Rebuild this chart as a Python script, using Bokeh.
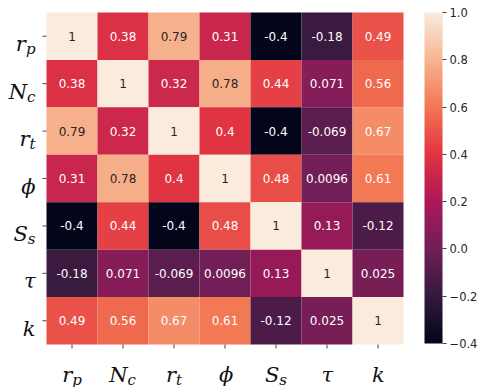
from bokeh.plotting import figure
from bokeh.models import (Range1d, FixedTicker, LinearColorMapper, ColorBar,
                          ColumnDataSource)
from bokeh.core.properties import value
from bokeh.embed import file_html
from bokeh.resources import INLINE

# ---------------- data ----------------
label_main = ["r", "N", "r", "\u03d5", "S", "\u03c4", "k"]
label_sub = ["p", "c", "t", "", "s", "", ""]

corr = [
    [1, 0.38, 0.79, 0.31, -0.4, -0.18, 0.49],
    [0.38, 1, 0.32, 0.78, 0.44, 0.071, 0.56],
    [0.79, 0.32, 1, 0.4, -0.4, -0.069, 0.67],
    [0.31, 0.78, 0.4, 1, 0.48, 0.0096, 0.61],
    [-0.4, 0.44, -0.4, 0.48, 1, 0.13, -0.12],
    [-0.18, 0.071, -0.069, 0.0096, 0.13, 1, 0.025],
    [0.49, 0.56, 0.67, 0.61, -0.12, 0.025, 1],
]
cbar_ticks = [-0.4, -0.2, 0.0, 0.2, 0.4, 0.6, 0.8, 1.0]
vmin, vmax = -0.4, 1.0

# ---------------- rocket colormap (approx) ----------------
anchors = [
    (0.0, "#03051a"), (1 / 7, "#35193e"), (2 / 7, "#701f57"), (3 / 7, "#ad1759"),
    (4 / 7, "#e13342"), (5 / 7, "#f37651"), (6 / 7, "#f6b48f"), (1.0, "#faebdd"),
]


def hex2rgb(h):
    h = h.lstrip("#")
    return tuple(int(h[i:i + 2], 16) for i in (0, 2, 4))


def interp(t):
    for (t0, c0), (t1, c1) in zip(anchors[:-1], anchors[1:]):
        if t <= t1:
            f = (t - t0) / (t1 - t0) if t1 > t0 else 0
            a, b = hex2rgb(c0), hex2rgb(c1)
            return tuple(round(a[k] + (b[k] - a[k]) * f) for k in range(3))
    return hex2rgb(anchors[-1][1])


N = 256
palette = ["#%02x%02x%02x" % interp(i / (N - 1)) for i in range(N)]


def color_of(v):
    idx = int((v - vmin) / (vmax - vmin) * N)
    idx = min(max(idx, 0), N - 1)
    return palette[idx]


def rel_lum(hexc):
    r, g, b = [c / 255 for c in hex2rgb(hexc)]
    def f(c):
        return c / 12.92 if c <= 0.03928 else ((c + 0.055) / 1.055) ** 2.4
    return 0.2126 * f(r) + 0.7152 * f(g) + 0.0722 * f(b)


n = len(label_main)
xs, ys, vs, txt, tcol = [], [], [], [], []
for i, row in enumerate(corr):
    for j, v in enumerate(row):
        xs.append(j + 0.5)
        ys.append(i + 0.5)
        vs.append(v)
        txt.append("{:.2g}".format(v))
        tcol.append("#262626" if rel_lum(color_of(v)) > 0.408 else "#ffffff")

src = ColumnDataSource(dict(x=xs, y=ys, v=vs, t=txt, tc=tcol))

# ---------------- layout (pixels) ----------------
W, H = 478, 387
HM_L, HM_R, HM_T, HM_B = 46, 403, 12, 344       # heatmap box on the page
cw = (HM_R - HM_L) / n
ch = (HM_B - HM_T) / n

p = figure(width=W, height=H, output_backend="svg", toolbar_location=None,
           x_range=Range1d(-HM_L / cw, (W - HM_L) / cw),
           y_range=Range1d(n + (H - HM_B) / ch, -HM_T / ch),
           min_border=0)
p.axis.visible = False
p.outline_line_color = None
p.grid.visible = False
p.background_fill_color = "white"
p.border_fill_color = "white"

mapper = LinearColorMapper(palette=palette, low=vmin, high=vmax)
p.rect(x="x", y="y", width=1, height=1, source=src,
       fill_color={"field": "v", "transform": mapper}, line_color=None)
p.text(x="x", y="y", text="t", source=src, text_color="tc",
       text_align="center", text_baseline="middle",
       text_font=value("DejaVu Sans"), text_font_size="12px")

# tick marks
pos = [k + 0.5 for k in range(n)]
tick = 4
p.segment(x0=pos, x1=pos, y0=[n] * n, y1=[n + tick / ch] * n,
          line_color="#444444", line_width=1)
p.segment(x0=[0] * n, x1=[-tick / cw] * n, y0=pos, y1=pos,
          line_color="#444444", line_width=1)

# math-style tick labels
main_fs, sub_fs = 21, 15
wmain = {"r": 0.478, "N": 0.837, "S": 0.685, "k": 0.64, "\u03d5": 0.8, "\u03c4": 0.58}
wsub = {"p": 0.64, "c": 0.56, "t": 0.4, "s": 0.51, "": 0.0}
font = value("DejaVu Serif")
tcolor = "#111111"

ym_x, ym_y, ym_t, ym_xo = [], [], [], []
ys_x, ys_y, ys_t = [], [], []
xm_x, xm_t, xm_xo = [], [], []
xs_x, xs_t, xs_xo = [], [], []
for k in range(n):
    m, s = label_main[k], label_sub[k]
    W1 = wmain[m] * main_fs
    W2 = wsub[s] * sub_fs
    ym_x.append(0); ym_y.append(k + 0.5); ym_t.append(m); ym_xo.append(-11 - W2)
    jo = (W1 - W2) / 2
    xm_x.append(k + 0.5); xm_t.append(m); xm_xo.append(jo)
    if s:
        ys_x.append(0); ys_y.append(k + 0.5); ys_t.append(s)
        xs_x.append(k + 0.5); xs_t.append(s); xs_xo.append(jo)

common = dict(text_font=font, text_font_style="italic", text_color=tcolor,
              text_baseline="alphabetic")
p.text(x=ym_x, y=ym_y, text=ym_t, x_offset=ym_xo, y_offset=8,
       text_align="right", text_font_size=f"{main_fs}px", **common)
p.text(x=ys_x, y=ys_y, text=ys_t, x_offset=-11, y_offset=13,
       text_align="right", text_font_size=f"{sub_fs}px", **common)
p.text(x=xm_x, y=[n] * len(xm_x), text=xm_t, x_offset=xm_xo, y_offset=30,
       text_align="right", text_font_size=f"{main_fs}px", **common)
p.text(x=xs_x, y=[n] * len(xs_x), text=xs_t, x_offset=xs_xo, y_offset=35,
       text_align="left", text_font_size=f"{sub_fs}px", **common)

cb = ColorBar(color_mapper=mapper, width=18, height=HM_B - HM_T - 1,
              location=(424, H - HM_B + 1), padding=0, margin=0,
              ticker=FixedTicker(ticks=cbar_ticks),
              major_label_overrides={t: ("%.1f" % t).replace("-", "\u2212") for t in cbar_ticks},
              major_label_text_font="DejaVu Sans",
              major_label_text_font_size="11.5px",
              major_label_text_color="#262626",
              major_tick_in=0, major_tick_out=4, major_tick_line_color="#444444",
              minor_tick_line_color=None, bar_line_color=None,
              border_line_color=None, background_fill_color=None,
              label_standoff=3)
p.add_layout(cb, "center")

open("out.html", "w").write(file_html(p, INLINE))
